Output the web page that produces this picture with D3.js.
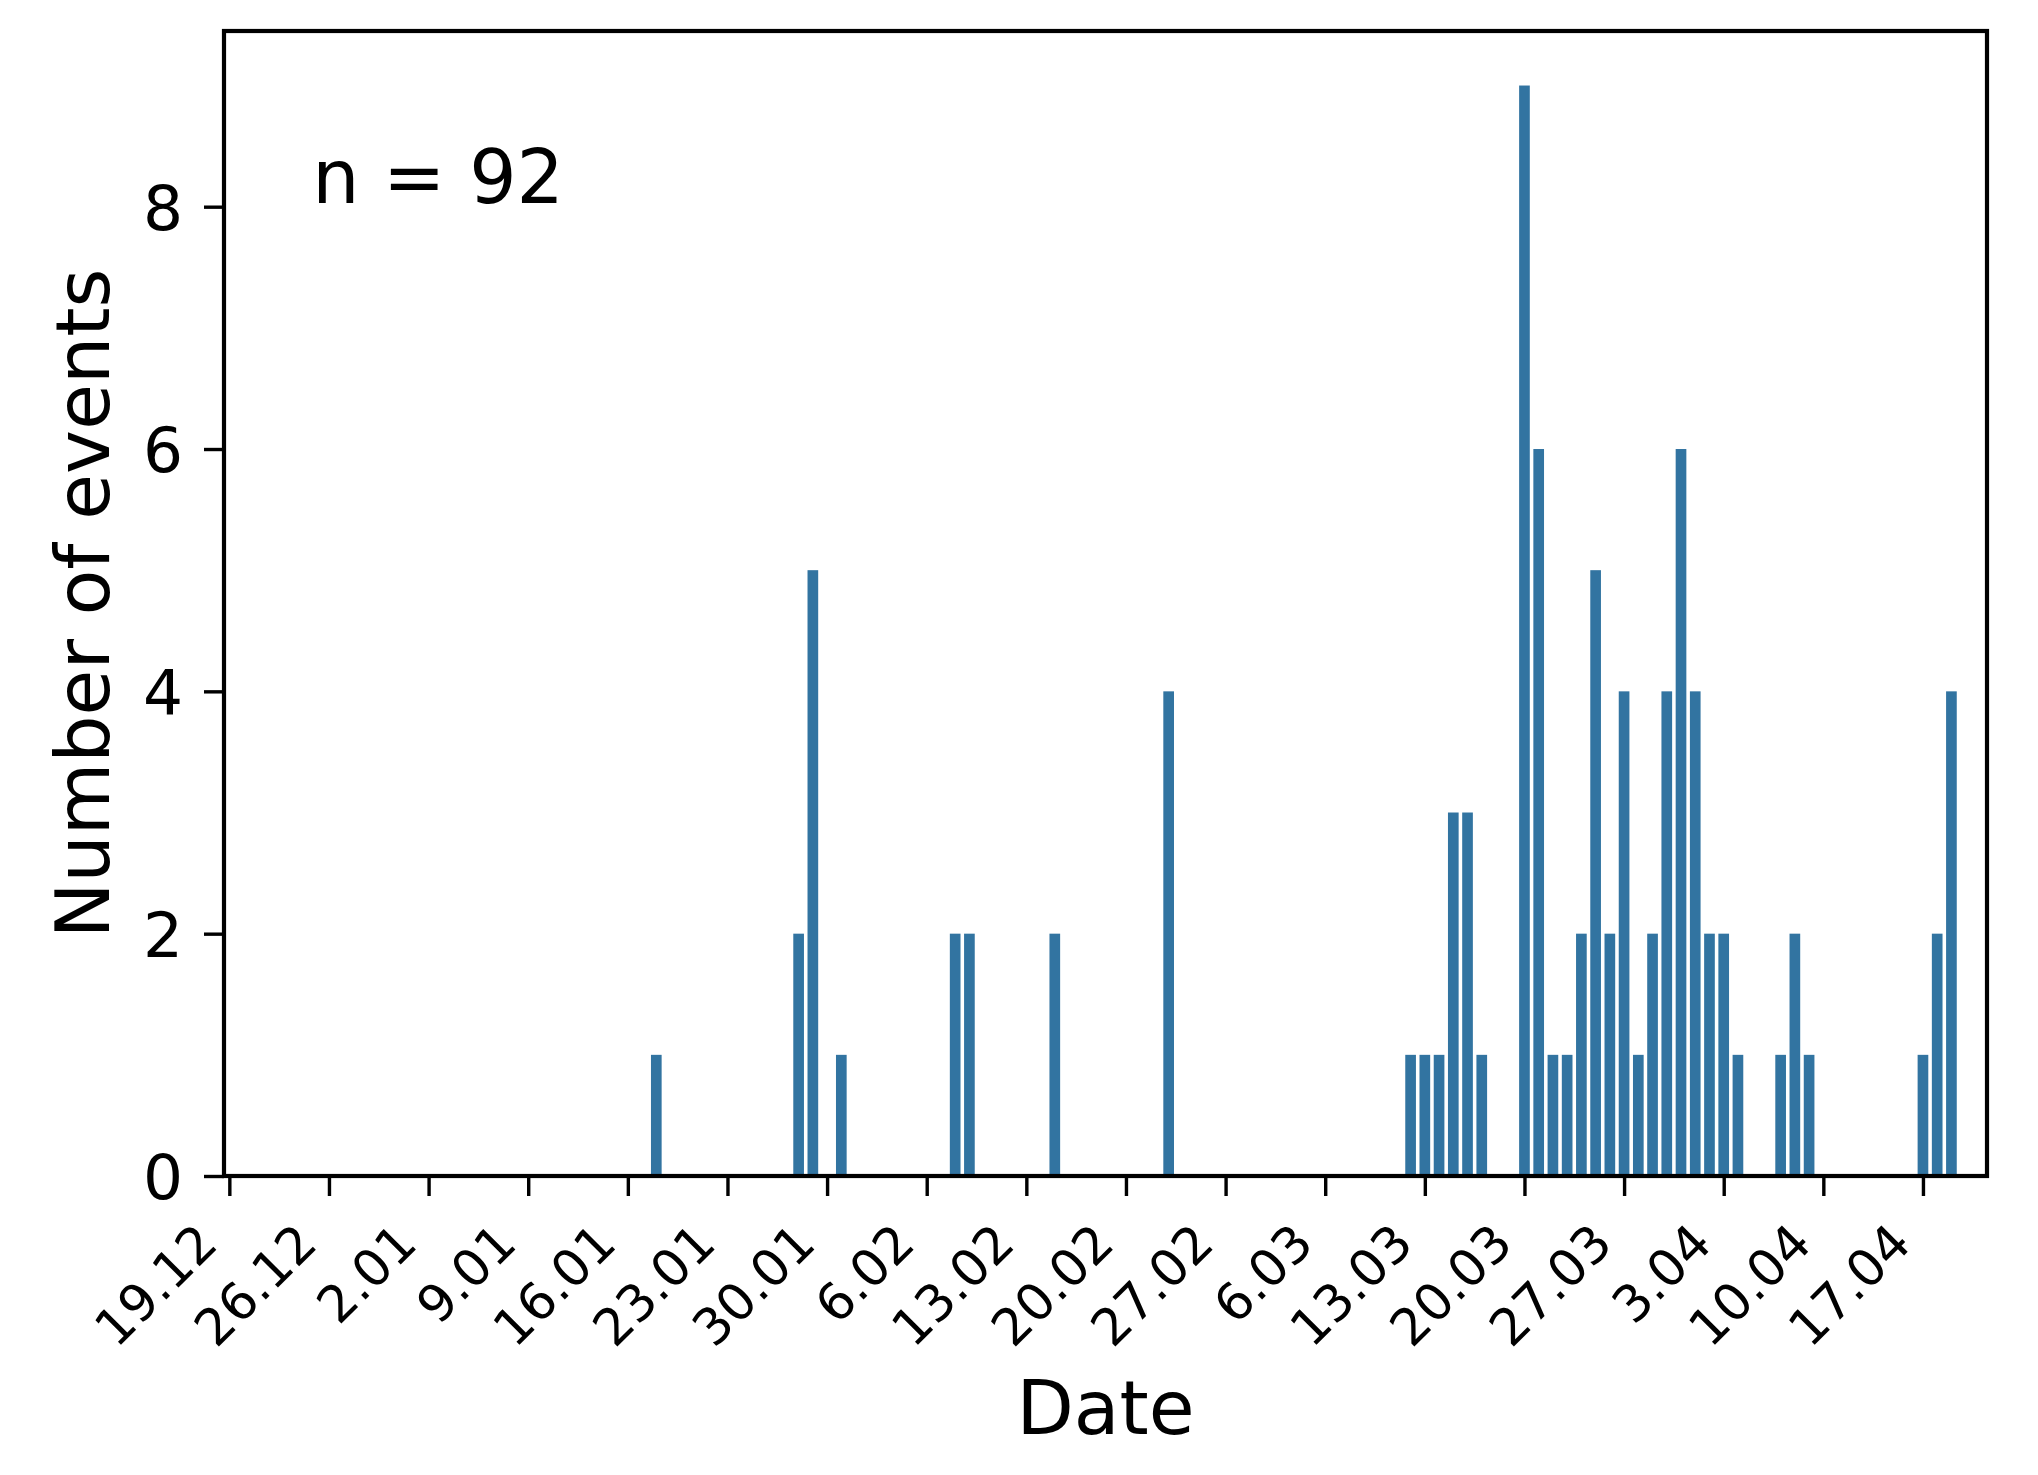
<!DOCTYPE html>
<html>
<head>
<meta charset="utf-8">
<script src="https://d3js.org/d3.v7.min.js"></script>
<style>
    body { margin: 0; background: #fff; }
    text { font-family: "DejaVu Sans", sans-serif; fill: #000; }
</style>
</head>
<body>
<svg id="chart" width="2038" height="1475"></svg>
<script>
// daily event counts (days without events are left out)
var eventDates = ["2021-01-18", "2021-01-28", "2021-01-29", "2021-01-31",
    "2021-02-08", "2021-02-09", "2021-02-15", "2021-02-23",
    "2021-03-12", "2021-03-13", "2021-03-14", "2021-03-15", "2021-03-16", "2021-03-17",
    "2021-03-20", "2021-03-21", "2021-03-22", "2021-03-23", "2021-03-24", "2021-03-25",
    "2021-03-26", "2021-03-27", "2021-03-28", "2021-03-29", "2021-03-30", "2021-03-31",
    "2021-04-01", "2021-04-02", "2021-04-03", "2021-04-04",
    "2021-04-07", "2021-04-08", "2021-04-09",
    "2021-04-17", "2021-04-18", "2021-04-19"];
var eventCounts = [1, 2, 5, 1,
    2, 2, 2, 4,
    1, 1, 1, 3, 3, 1,
    9, 6, 1, 1, 2, 5,
    2, 4, 1, 2, 4, 6,
    4, 2, 2, 1,
    1, 2, 1,
    1, 2, 4];

var tickDates = ["2020-12-19", "2020-12-26", "2021-01-02", "2021-01-09", "2021-01-16",
    "2021-01-23", "2021-01-30", "2021-02-06", "2021-02-13", "2021-02-20", "2021-02-27",
    "2021-03-06", "2021-03-13", "2021-03-20", "2021-03-27", "2021-04-03", "2021-04-10",
    "2021-04-17"];
var tickLabels = ["19.12", "26.12", "2.01", "9.01", "16.01", "23.01", "30.01", "6.02",
    "13.02", "20.02", "27.02", "6.03", "13.03", "20.03", "27.03", "3.04", "10.04", "17.04"];
var yTicks = [0, 2, 4, 6, 8];

var parse = d3.utcParse("%Y-%m-%d");
var data = eventDates.map(function(d, i) { return {date: parse(d), count: eventCounts[i]}; });
var total = d3.sum(eventCounts);

var svg = d3.select("#chart");
var margin = {top: 31, left: 224, bottom: 299, right: 51};
var width = 2038, height = 1475;
var x0 = margin.left, x1 = width - margin.right;
var y0 = height - margin.bottom, y1 = margin.top;

svg.append("rect").attr("width", width).attr("height", height).attr("fill", "#fff");

// categorical days: half a slot left of first day, half a slot right of 21.04
var x = d3.scaleUtc()
    .domain([d3.utcHour.offset(parse(tickDates[0]), -9), d3.utcHour.offset(parse("2021-04-21"), 12)])
    .range([x0, x1]);

var y = d3.scaleLinear()
    .domain([0, d3.max(eventCounts) * 1.05])
    .range([y0, y1]);

var barW = x(d3.utcHour.offset(parse(tickDates[0]), 18.7)) - x(parse(tickDates[0]));

svg.append("g").selectAll("rect")
    .data(data)
    .enter().append("rect")
    .attr("x", d => x(d.date) - barW / 2)
    .attr("y", d => y(d.count))
    .attr("width", barW)
    .attr("height", d => y(0) - y(d.count))
    .attr("fill", "#3274a1");

// y axis
var yAxis = svg.append("g")
    .attr("transform", `translate(${x0},0)`)
    .call(d3.axisLeft(y).tickValues(yTicks).tickSize(20).tickPadding(21).tickSizeOuter(0));
yAxis.select(".domain").remove();
yAxis.selectAll(".tick line").attr("stroke", "#000").attr("stroke-width", 3.4);
yAxis.selectAll(".tick text")
    .attr("font-size", "63px")
    .attr("font-family", "DejaVu Sans")
    .attr("dy", "0.36em");

// x axis
var xAxis = svg.append("g")
    .attr("transform", `translate(0,${y0})`)
    .call(d3.axisBottom(x).tickValues(tickDates.map(parse)).tickSize(20).tickSizeOuter(0)
        .tickFormat((d, i) => tickLabels[i]));
xAxis.select(".domain").remove();
xAxis.selectAll(".tick line").attr("stroke", "#000").attr("stroke-width", 3.4);
xAxis.selectAll(".tick text")
    .attr("font-size", "51px")
    .attr("font-family", "DejaVu Sans")
    .attr("text-anchor", "end")
    .attr("dy", null)
    .attr("y", null)
    .attr("transform", "translate(-10,70) rotate(-45)");

// frame
svg.append("rect")
    .attr("x", x0).attr("y", y1)
    .attr("width", x1 - x0).attr("height", y0 - y1)
    .attr("fill", "none")
    .attr("stroke", "#000")
    .attr("stroke-width", 4.2);

svg.append("text")
    .attr("x", x0 + 0.05 * (x1 - x0))
    .attr("y", y0 - 0.85 * (y0 - y1))
    .attr("font-size", "74.5px")
    .text("n = " + total);

svg.append("text")
    .attr("x", (x0 + x1) / 2)
    .attr("y", 1434)
    .attr("text-anchor", "middle")
    .attr("font-size", "74.5px")
    .text("Date");

svg.append("text")
    .attr("transform", `translate(109,${(y0 + y1) / 2}) rotate(-90)`)
    .attr("text-anchor", "middle")
    .attr("font-size", "74.5px")
    .text("Number of events");
</script>
</body>
</html>
